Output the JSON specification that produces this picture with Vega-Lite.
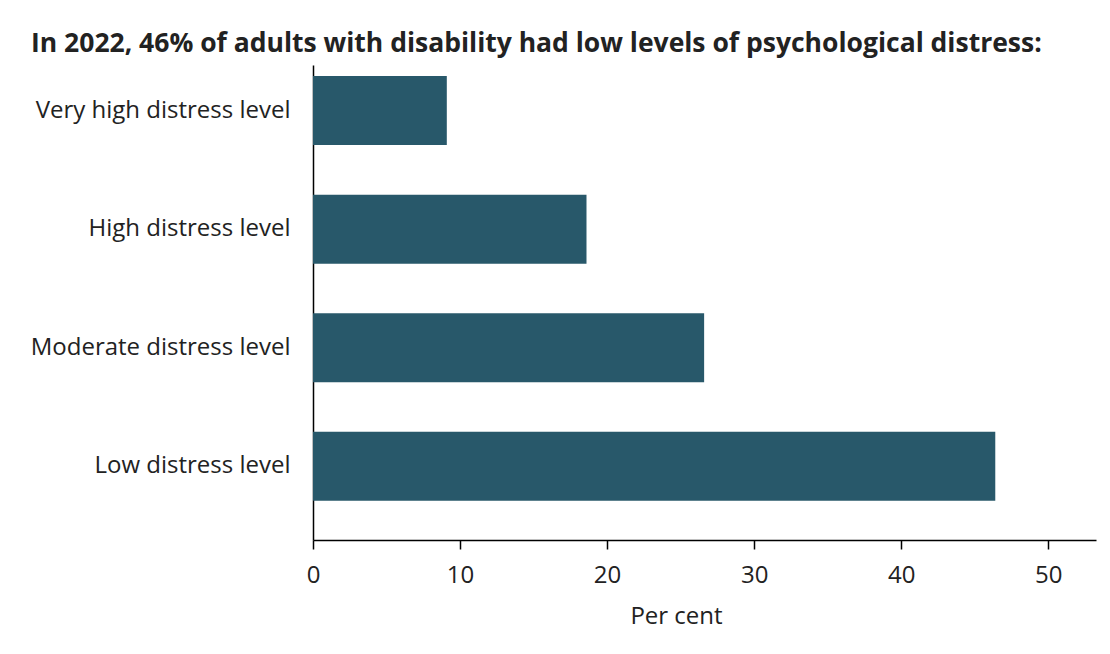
{
  "$schema": "https://vega.github.io/schema/vega-lite/v6.json",
  "autosize": "none",
  "width": 783,
  "height": 475,
  "padding": {"left": 313, "top": 65, "right": 14, "bottom": 114},
  "background": "white",
  "config": {"view": {"stroke": null}, "font": "Open Sans"},
  "title": {
    "text": "In 2022, 46% of adults with disability had low levels of psychological distress:",
    "anchor": "start",
    "frame": "group",
    "dx": -282,
    "offset": 8,
    "font": "Open Sans",
    "fontSize": 26.5,
    "fontWeight": "bold",
    "color": "#222222"
  },
  "data": {
    "values": [
      {"level": "Very high distress level", "pct": 9.1},
      {"level": "High distress level", "pct": 18.6},
      {"level": "Moderate distress level", "pct": 26.6},
      {"level": "Low distress level", "pct": 46.4}
    ]
  },
  "mark": {"type": "bar", "color": "#28586a"},
  "encoding": {
    "y": {
      "field": "level",
      "type": "nominal",
      "sort": null,
      "scale": {"paddingInner": 0.418, "paddingOuter": 0.212, "align": 0.22},
      "axis": {
        "title": null,
        "ticks": false,
        "labelPadding": 23,
        "labelFontSize": 24,
        "labelLimit": 400,
        "labelColor": "#222222",
        "labelFont": "Open Sans",
        "domainColor": "#000000",
        "domainWidth": 1.5,
        "grid": false
      }
    },
    "x": {
      "field": "pct",
      "type": "quantitative",
      "scale": {"domain": [0, 53.25], "nice": false},
      "axis": {
        "title": "Per cent",
        "values": [0, 10, 20, 30, 40, 50],
        "grid": false,
        "labelFlush": false,
        "tickSize": 9,
        "tickColor": "#000000",
        "tickWidth": 1.5,
        "domainColor": "#000000",
        "domainWidth": 1.5,
        "labelFontSize": 24,
        "labelPadding": 14,
        "labelColor": "#222222",
        "labelFont": "Open Sans",
        "titleFontSize": 24,
        "titleFontWeight": "normal",
        "titleColor": "#222222",
        "titleFont": "Open Sans",
        "titleX": 363,
        "titlePadding": 17
      }
    }
  }
}
